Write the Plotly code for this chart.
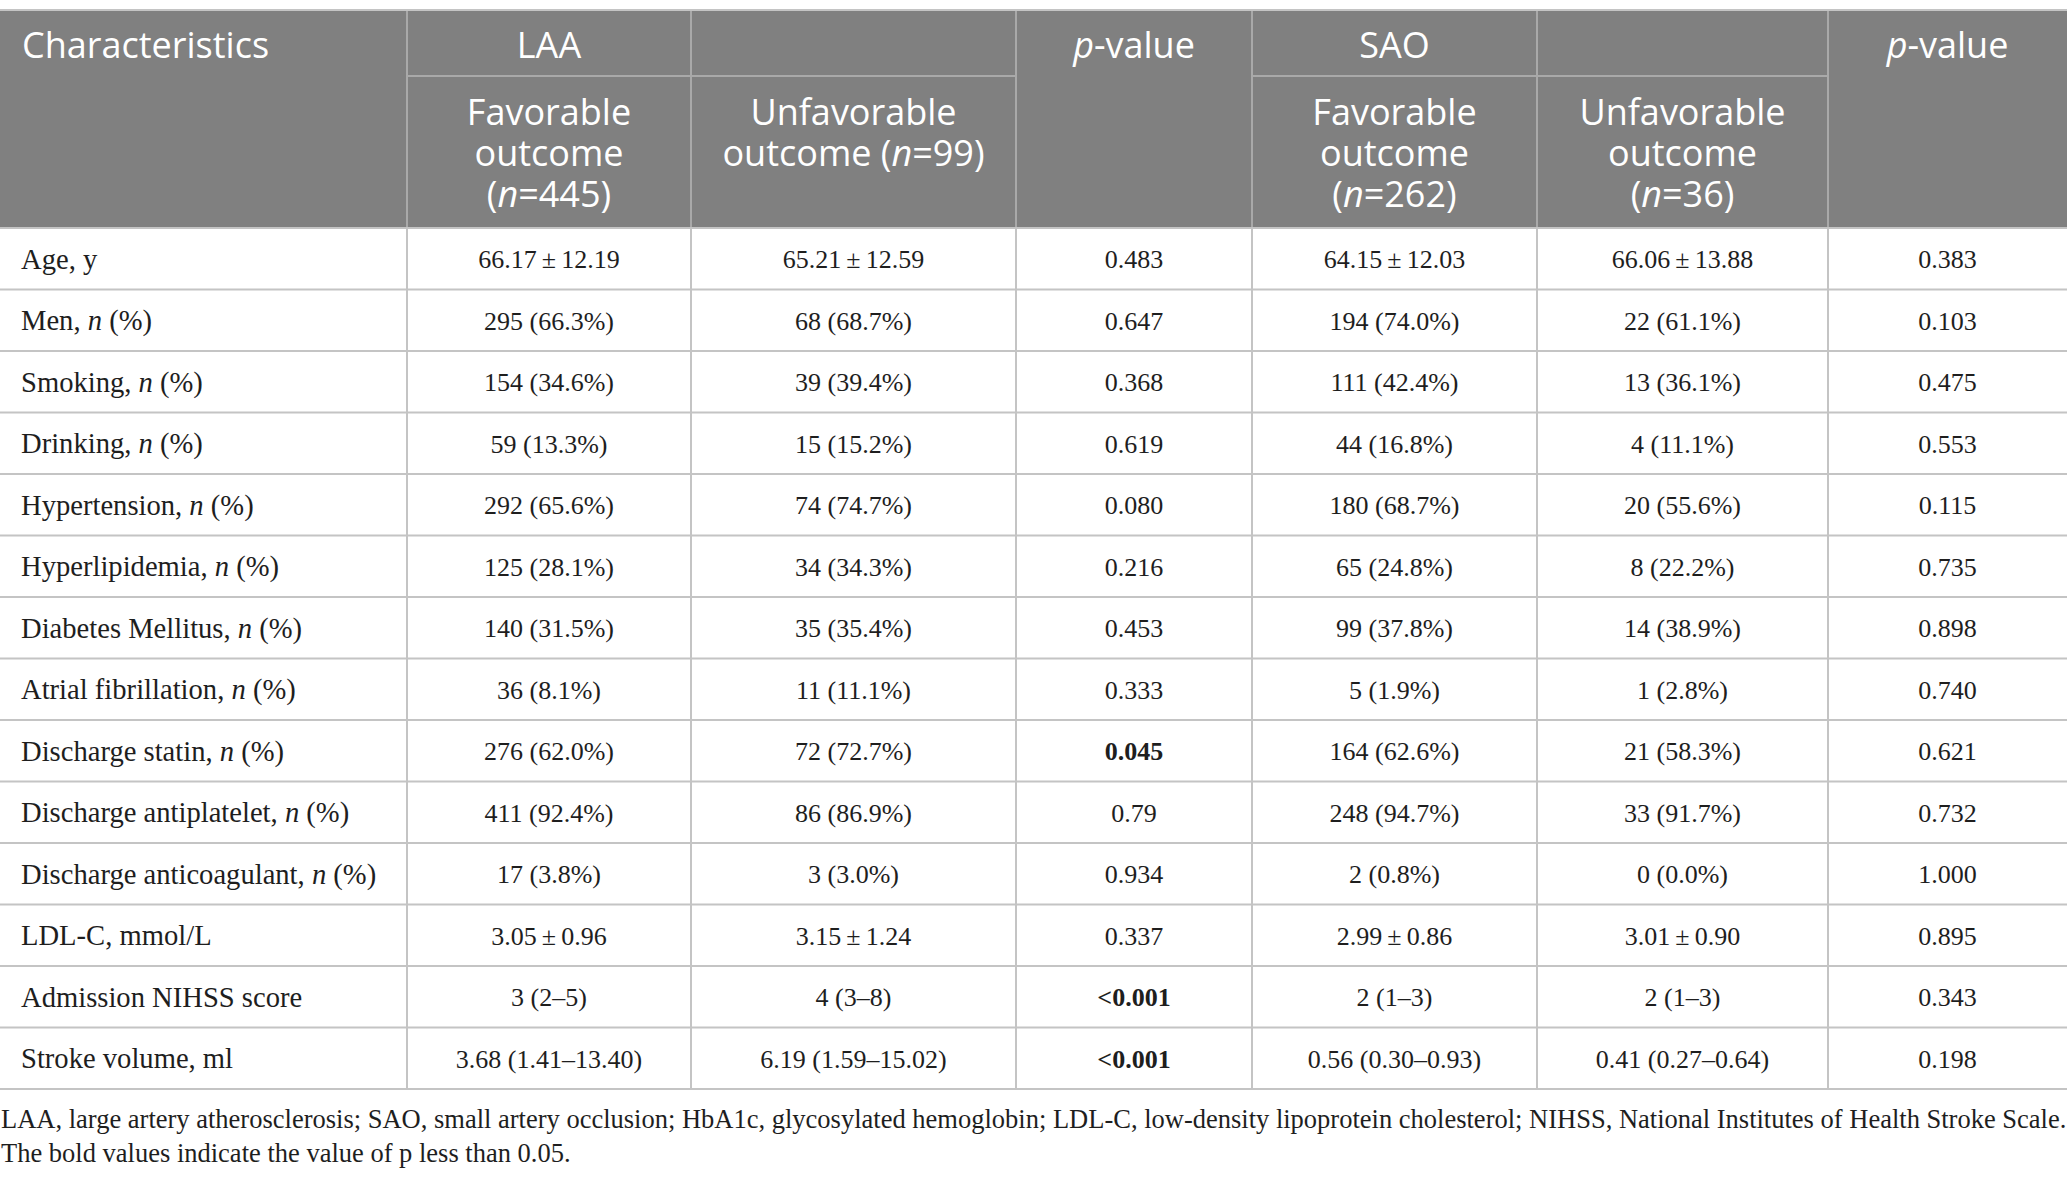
import plotly.graph_objects as go

# table content
characteristics = ["Age, y", "Men, <i>n</i> (%)", "Smoking, <i>n</i> (%)", "Drinking, <i>n</i> (%)",
                   "Hypertension, <i>n</i> (%)", "Hyperlipidemia, <i>n</i> (%)",
                   "Diabetes Mellitus, <i>n</i> (%)", "Atrial fibrillation, <i>n</i> (%)",
                   "Discharge statin, <i>n</i> (%)", "Discharge antiplatelet, <i>n</i> (%)",
                   "Discharge anticoagulant, <i>n</i> (%)", "LDL-C, mmol/L",
                   "Admission NIHSS score", "Stroke volume, ml"]
laa_fav = ["66.17 ± 12.19", "295 (66.3%)", "154 (34.6%)", "59 (13.3%)", "292 (65.6%)",
           "125 (28.1%)", "140 (31.5%)", "36 (8.1%)", "276 (62.0%)", "411 (92.4%)",
           "17 (3.8%)", "3.05 ± 0.96", "3 (2–5)", "3.68 (1.41–13.40)"]
laa_unfav = ["65.21 ± 12.59", "68 (68.7%)", "39 (39.4%)", "15 (15.2%)", "74 (74.7%)",
             "34 (34.3%)", "35 (35.4%)", "11 (11.1%)", "72 (72.7%)", "86 (86.9%)",
             "3 (3.0%)", "3.15 ± 1.24", "4 (3–8)", "6.19 (1.59–15.02)"]
laa_p = ["0.483", "0.647", "0.368", "0.619", "0.080", "0.216", "0.453", "0.333", "0.045",
         "0.79", "0.934", "0.337", "<0.001", "<0.001"]
sao_fav = ["64.15 ± 12.03", "194 (74.0%)", "111 (42.4%)", "44 (16.8%)", "180 (68.7%)",
           "65 (24.8%)", "99 (37.8%)", "5 (1.9%)", "164 (62.6%)", "248 (94.7%)",
           "2 (0.8%)", "2.99 ± 0.86", "2 (1–3)", "0.56 (0.30–0.93)"]
sao_unfav = ["66.06 ± 13.88", "22 (61.1%)", "13 (36.1%)", "4 (11.1%)", "20 (55.6%)",
             "8 (22.2%)", "14 (38.9%)", "1 (2.8%)", "21 (58.3%)", "33 (91.7%)",
             "0 (0.0%)", "3.01 ± 0.90", "2 (1–3)", "0.41 (0.27–0.64)"]
sao_p = ["0.383", "0.103", "0.475", "0.553", "0.115", "0.735", "0.898", "0.740", "0.621",
         "0.732", "1.000", "0.895", "0.343", "0.198"]

header_top = ["Characteristics", "LAA", "", "<i>p</i>-value", "SAO", "", "<i>p</i>-value"]
header_sub = [[], ["Favorable", "outcome", "(<i>n</i>=445)"], ["Unfavorable", "outcome (<i>n</i>=99)"], [],
              ["Favorable", "outcome", "(<i>n</i>=262)"], ["Unfavorable", "outcome", "(<i>n</i>=36)"], []]

footnotes = ["LAA, large artery atherosclerosis; SAO, small artery occlusion; HbA1c, glycosylated hemoglobin; "
             "LDL-C, low-density lipoprotein cholesterol; NIHSS, National Institutes of Health Stroke Scale.",
             "The bold values indicate the value of p less than 0.05."]

# layout (pixels)
W, H = 2067, 1182
col_widths = [407, 284, 325, 236, 285, 291, 239]
top, head1, head2 = 10, 76, 228
row_h = 61.5
sub_y0, sub_pitch = 116, 41
foot_y0, foot_pitch = 1121, 34.5

GREY = "#808080"
HEAD_LINE = "#a9a9a9"
GRID = "#c4c4c4"
INK = "#1e1e1e"
SERIF = "Liberation Serif"
SANS = "Open Sans"

edges = [0]
for w in col_widths:
    edges.append(edges[-1] + w)
centers = [(a + b) / 2 for a, b in zip(edges[:-1], edges[1:])]
n_rows = len(characteristics)
row_edges = [head2 + i * row_h for i in range(n_rows + 1)]
row_mid = [head2 + (i + 0.5) * row_h + 3 for i in range(n_rows)]


def fmt(v):
    return v.replace(" ± ", "\u2009±\u2009")


def fmt_p(v):
    bold = v.startswith("<") or float(v) < 0.05
    v = v.replace("<", "&lt;")
    return "<b>" + v + "</b>" if bold else v


columns = [characteristics, [fmt(v) for v in laa_fav], [fmt(v) for v in laa_unfav],
           [fmt_p(v) for v in laa_p], [fmt(v) for v in sao_fav], [fmt(v) for v in sao_unfav],
           [fmt_p(v) for v in sao_p]]

fig = go.Figure()

# body text
for j, vals in enumerate(columns):
    left = j == 0
    fig.add_trace(go.Scatter(
        x=[edges[j] + 21 if left else centers[j]] * n_rows, y=row_mid, text=vals,
        mode="text", textposition="middle right" if left else "middle center",
        textfont=dict(family=SERIF, size=28.6 if left else 26, color=INK), hoverinfo="skip"))

# header text
hx, hy, ht, hp = [], [], [], []
for j, t in enumerate(header_top):
    if t:
        hx.append(edges[j] + 22 if j == 0 else centers[j])
        hy.append((top + head1) / 2 + 6)
        ht.append(t)
        hp.append("middle right" if j == 0 else "middle center")
    for k, line in enumerate(header_sub[j]):
        hx.append(centers[j])
        hy.append(sub_y0 + k * sub_pitch)
        ht.append(line)
        hp.append("middle center")
fig.add_trace(go.Scatter(x=hx, y=hy, text=ht, mode="text", textposition=hp,
                         textfont=dict(family=SANS, size=36, color="white"), hoverinfo="skip"))

# footnotes
fig.add_trace(go.Scatter(x=[1] * len(footnotes), y=[foot_y0 + i * foot_pitch for i in range(len(footnotes))],
                         text=footnotes, mode="text", textposition="middle right",
                         textfont=dict(family=SERIF, size=26.5, color=INK), hoverinfo="skip"))

# header background and grid
shapes = [dict(type="rect", x0=0, x1=W, y0=top, y1=head2, fillcolor=GREY, line_width=0, layer="below")]
for x in edges[1:-1]:
    shapes.append(dict(type="line", x0=x, x1=x, y0=top, y1=head2, line=dict(color=HEAD_LINE, width=2)))
for j, sub in enumerate(header_sub):
    if sub:
        shapes.append(dict(type="line", x0=edges[j], x1=edges[j + 1], y0=head1, y1=head1,
                           line=dict(color=HEAD_LINE, width=2)))
shapes.append(dict(type="line", x0=0, x1=W, y0=top, y1=top, line=dict(color=GRID, width=2)))
for x in edges[1:-1]:
    shapes.append(dict(type="line", x0=x, x1=x, y0=head2, y1=row_edges[-1], line=dict(color=GRID, width=2)))
for y in row_edges:
    shapes.append(dict(type="line", x0=0, x1=W, y0=y, y1=y, line=dict(color=GRID, width=2)))

fig.update_layout(
    width=W, height=H, margin=dict(l=0, r=0, t=0, b=0),
    paper_bgcolor="white", plot_bgcolor="white", showlegend=False, shapes=shapes,
    xaxis=dict(range=[0, W], visible=False, fixedrange=True),
    yaxis=dict(range=[H, 0], visible=False, fixedrange=True),
)
fig.write_html("out.html", config={"displayModeBar": False},
               post_script="document.body.style.margin='0';document.body.style.overflow='hidden';")
